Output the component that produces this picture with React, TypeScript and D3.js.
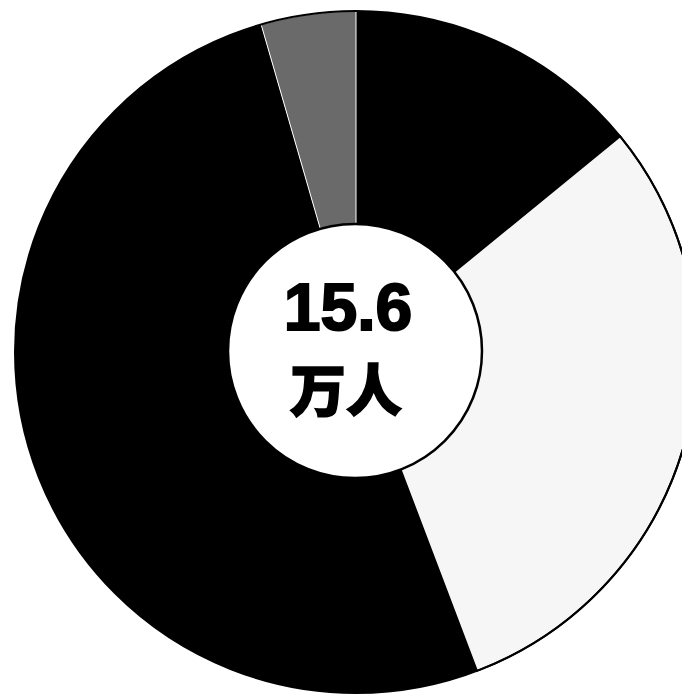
import React from "react";
import * as d3 from "d3";

const categories = ["类别A", "类别B", "类别C", "类别D"];
const values = [2.2, 4.7, 8.0, 0.7];
const fills = ["#000000", "#f6f6f6", "#000000", "#6a6a6a"];
const totalLabel = "15.6";
const unitLabel = "万人";

const W = 682;
const H = 696;

export default function App() {
  const cx = 356;
  const cy = 352;
  const rOuter = 341;
  const rInner = 127;
  const pie = d3
    .pie<number>()
    .sort(null)
    .startAngle(0)
    .endAngle(2 * Math.PI)(values);
  const arc = d3.arc<d3.PieArcDatum<number>>().innerRadius(0).outerRadius(rOuter);
  return (
    <svg
      width={W}
      height={H}
      style={{ position: "absolute", left: 0, top: 0, background: "#fff" }}
    >
      <g transform={`translate(${cx},${cy})`}>
        {pie.map((d, i) => (
          <path
            key={categories[i]}
            d={arc(d) || ""}
            fill={fills[i]}
            stroke={i === 3 ? "#ffffff" : i === 1 ? "#000" : "none"}
            strokeWidth={i === 3 ? 1 : i === 1 ? 2 : 0}
          />
        ))}
        <circle cx={0} cy={0} r={rOuter} fill="none" stroke="#000" strokeWidth={2} />
      </g>
      <circle cx={355} cy={351} r={rInner} fill="#fff" stroke="#000" strokeWidth={2.5} />
      <text
        x={348}
        y={330}
        textAnchor="middle"
        fontFamily="'Liberation Sans', Arial, sans-serif"
        fontWeight={900}
        fontSize={66}
        fill="#000"
        stroke="#000"
        strokeWidth={2}
      >
        {totalLabel}
      </text>
      <text
        x={346}
        y={411}
        textAnchor="middle"
        fontFamily="'Noto Sans CJK SC', sans-serif"
        fontWeight={900}
        fontSize={56}
        fill="#000"
        stroke="#000"
        strokeWidth={1.5}
      >
        {unitLabel}
      </text>
    </svg>
  );
}
